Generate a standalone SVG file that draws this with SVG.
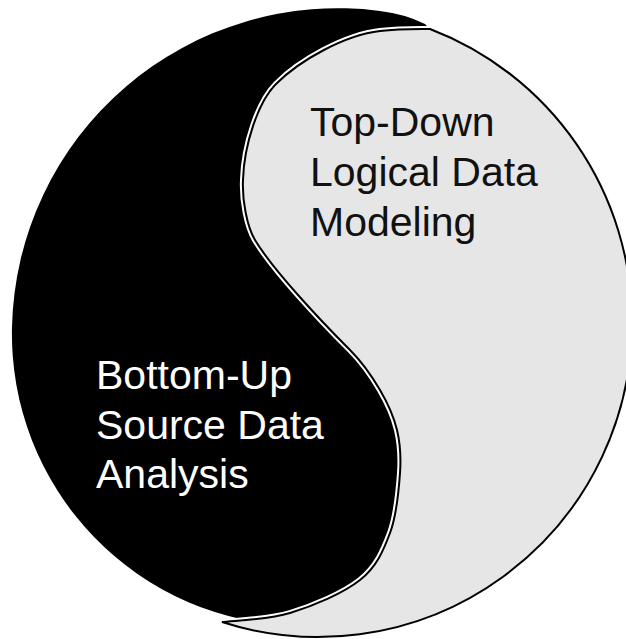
<svg xmlns="http://www.w3.org/2000/svg" width="626" height="639" viewBox="0 0 626 639">
  <style>
    .dark { fill: #000000; }
    .light { fill: #e6e6e6; stroke: #ffffff; stroke-width: 6; stroke-linejoin: round; paint-order: stroke; }
    .edge { fill: none; stroke: #000000; stroke-width: 2; stroke-linejoin: miter; }
    .label { font-family: "Liberation Sans", Arial, Helvetica, sans-serif; font-size: 41px; }
    .on-light { fill: #111111; }
    .on-dark { fill: #ffffff; }
  </style>
  <defs>
    <path id="lightShape" d="M 430 29 A 314 314 0 0 1 632 322 A 314 314 0 0 1 222 622 C 233.3 620.5 267 620 290 613 C 313 606 343.3 593.3 360 580 C 376.7 566.7 383.3 550.8 390 533 C 396.7 515.2 398.8 490.2 400 473 C 401.2 455.8 400.3 443.8 397 430 C 393.7 416.2 387.8 403.3 380 390 C 372.2 376.7 360 360 350 350 C 320 320 273 270 255 240 C 247 226.7 242 200 243 180 C 244 145 258 102 276 84 C 300 60 345 35 380 31 C 400 28.5 420 29 430 29 Z"/>
  </defs>
  <rect x="0" y="0" width="626" height="639" fill="#ffffff"/>
  <g id="dark-half">
    <path class="dark" d="M 425 24 Q 405 14 380 11 A 326 326 0 0 0 12 327 A 292 292 0 0 0 300 626 L 290 613 C 313 606 343.3 593.3 360 580 C 376.7 566.7 383.3 550.8 390 533 C 396.7 515.2 398.8 490.2 400 473 C 401.2 455.8 400.3 443.8 397 430 C 393.7 416.2 387.8 403.3 380 390 C 372.2 376.7 360 360 350 350 C 320 320 273 270 255 240 C 247 226.7 242 200 243 180 C 244 145 258 102 276 84 C 300 60 345 35 380 31 C 400 28.5 420 29 430 29 L 425 24 Z"/>
  </g>
  <g id="light-half">
    <use href="#lightShape" class="light"/>
    <use href="#lightShape" class="edge"/>
  </g>
  <g id="top-down-label" class="label on-light">
    <text x="310" y="135.5">Top-Down</text>
    <text x="310" y="185.5">Logical Data</text>
    <text x="310" y="235.5">Modeling</text>
  </g>
  <g id="bottom-up-label" class="label on-dark">
    <text x="96" y="389">Bottom-Up</text>
    <text x="96" y="438.5">Source Data</text>
    <text x="96" y="488">Analysis</text>
  </g>
</svg>
